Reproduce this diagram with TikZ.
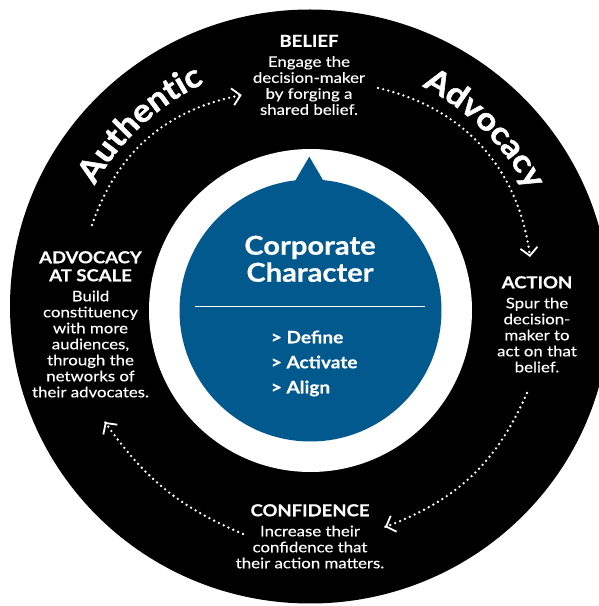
\documentclass[tikz,border=0pt]{standalone}
\usepackage{fontspec}
\setmainfont{Lato}[FakeStretch=1.12]
\newfontfamily\headfont{Lato}[FakeStretch=1.12,FakeBold=0.5]
\newfontfamily\bodyfont{Lato}[FakeStretch=1.16,FakeBold=0.3]
\newfontfamily\curvefamily{Lato}[FakeStretch=1.08,FakeBold=1.6]
\usetikzlibrary{arrows.meta,calc,decorations.text}
\definecolor{charblue}{RGB}{2,89,141}
\newcommand\stagehead[1]{{\headfont\bfseries\fontsize{16.5}{16}\selectfont #1}}
\newcommand\curvefont{\curvefamily\bfseries\fontsize{32}{32}\selectfont}

\begin{document}
\begin{tikzpicture}[x=1pt, y=1pt,
    stage/.style={text=white, align=center, anchor=north, inner sep=0pt,
      font=\bodyfont\fontsize{14.5}{16}\selectfont},
    flow/.style={white, line width=2.6pt, line cap=round, dash pattern=on 0pt off 5.3pt},
    flowtip/.style={white, line width=1.8pt, -{Straight Barb[length=8pt,width=17pt]}},
    curved/.style={decorate, decoration={text along path, text={|\curvefont|#1},
      text align={align=center}, text color=white}}]
  \useasboundingbox (0,0) rectangle (599,606);
  \coordinate (hub) at (310,299.5);
  \fill[black] (hub) ellipse [x radius=300, y radius=297];
  \fill[white] (310.5,295.5) circle [radius=161.5];
  \fill[charblue] (310.5,295.5) circle [radius=131];
  \fill[charblue] (292.1,420) -- (309.3,449.3) -- (326.5,420) -- cycle;
  \draw[white, line width=0.8pt] (195,300) -- (425,300);

  \node[stage, font=\headfont\bfseries\fontsize{26}{27}\selectfont] (character) at (310,370.5) {Corporate\\Character};
  \node[stage, align=left, anchor=north west, font=\headfont\bfseries\fontsize{17}{25}\selectfont] (steps) at (270.7,275.6) {> Define\\> Activate\\> Align};

  \node[stage] (belief) at (309,571.3) {\stagehead{BELIEF}\\[4pt]Engage the\\decision-maker\\by forging a\\shared belief.};
  \node[stage] (action) at (537,330) {\stagehead{ACTION}\\[4pt]Spur the\\decision-\\maker to\\act on that\\belief.};
  \node[stage] (confidence) at (310,102) {\stagehead{CONFIDENCE}\\[4pt]Increase their\\confidence that\\their action matters.};
  \node[stage] (scale) at (90.5,355) {\stagehead{ADVOCACY}\\[2pt]\stagehead{AT SCALE}\\[4pt]Build\\constituency\\with more\\audiences,\\through the\\networks of\\their advocates.};

  \path[curved=Authentic] (hub) ++(160:247) arc [start angle=160, end angle=106, radius=247];
  \path[curved=Advocacy] (hub) ++(73:247) arc [start angle=73, end angle=18, radius=247];

  \coordinate (scaleout) at (92,381);
  \coordinate (beliefin) at (241.7,511);
  \coordinate (beliefout) at (378,518);
  \coordinate (actionin) at (530,349);
  \coordinate (actionout) at (527,213);
  \coordinate (confin) at (385,79);
  \coordinate (confout) at (243,72);
  \coordinate (scalein) at (105,184);
  \draw[flow] (scaleout) to[bend left=30] (beliefin);
  \draw[flow] (beliefout) to[bend left=35] (actionin);
  \draw[flow] (actionout) to[bend left=23] (confin);
  \draw[flow] (confout) to[bend left=16] (scalein);
  \draw[flowtip] ($(beliefin)!1pt!-30:(scaleout)$) -- (beliefin);
  \draw[flowtip] ($(actionin)!1pt!-35:(beliefout)$) -- (actionin);
  \draw[flowtip] ($(confin)!1pt!-23:(actionout)$) -- (confin);
  \draw[flowtip] ($(scalein)!1pt!-16:(confout)$) -- (scalein);
\end{tikzpicture}
\end{document}
